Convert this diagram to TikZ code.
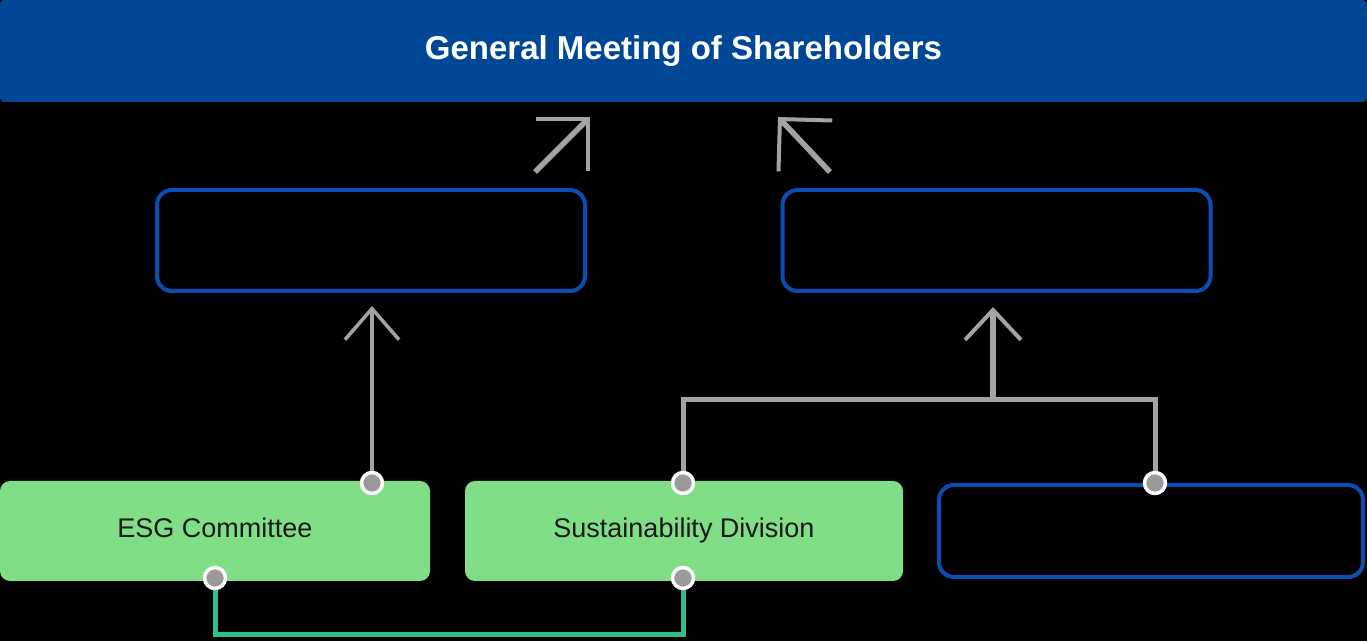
\documentclass[tikz,border=0pt]{standalone}
\usepackage{fontspec}
\setmainfont{Liberation Sans}
\usetikzlibrary{arrows.meta}
\definecolor{barblue}{HTML}{004896}
\definecolor{boxblue}{HTML}{0A4DB3}
\definecolor{boxgreen}{HTML}{7FDE86}
\definecolor{linegray}{HTML}{A3A3A3}
\definecolor{dotgray}{HTML}{9A9A9A}
\definecolor{linkteal}{HTML}{2EBF8E}
\begin{document}
\begin{tikzpicture}[x=0.5pt,y=-0.5pt,
  outlinebox/.style={draw=boxblue,line width=2pt,rounded corners=7.5pt,inner sep=0pt},
  greenbox/.style={fill=boxgreen,rounded corners=5pt,inner sep=0pt,text height=1.5ex,text depth=.25ex,
    minimum height=50pt,font=\fontsize{13.5}{15}\selectfont,text=black!90},
  dot/.style={circle,fill=dotgray,draw=white,line width=1.75pt,minimum size=10.5pt,inner sep=0pt},
  gline/.style={draw=linegray,line width=2.5pt},
  garrow/.style={gline,-{Straight Barb[length=15.5pt,width=27pt,line width=1.75pt]}},
  darrow/.style={gline,-{Straight Barb[length=18.5pt,width=37pt,line width=2pt]}}]
  \fill[black] (0,0) rectangle (1367,641);
  \node[fill=barblue,rounded corners=2pt,minimum width=683.5pt,minimum height=51pt,inner sep=0pt,
    text=white,font=\bfseries\fontsize{16.5}{19}\selectfont] (bar) at (683.5,51) {General Meeting of Shareholders};
  \node[outlinebox,minimum width=214pt,minimum height=50.5pt] (lbox) at (371,240.5) {};
  \node[outlinebox,minimum width=214pt,minimum height=50.5pt] (rbox) at (996.5,240.5) {};
  \node[greenbox,minimum width=215pt] (esg) at (215,531) {ESG Committee};
  \node[greenbox,minimum width=219pt] (sus) at (684,531) {Sustainability Division};
  \node[outlinebox,minimum width=212pt,minimum height=46pt] (ext) at (1151,531) {};
  \node[dot] (d1) at (372,483) {};
  \node[dot] (d2) at (683,483) {};
  \node[dot] (d3) at (1155,483) {};
  \node[dot] (d4) at (215,578) {};
  \node[dot] (d5) at (683,578) {};
  \coordinate (ltail) at (535,172);
  \coordinate (lhead) at (590,117);
  \coordinate (rtail) at (830,172);
  \coordinate (rhead) at (778,117);
  \coordinate (bus) at (993,400);
  \coordinate (low) at (0,635);
  \draw[darrow,line width=2.75pt] (ltail) -- (lhead);
  \draw[darrow,line width=2.75pt] (rtail) -- (rhead);
  \draw[gline] (d2) |- (bus) -| (d3);
  \draw[gline,line width=3pt,-{Straight Barb[length=15pt,width=28pt,line width=2pt]}] (bus) -- ([yshift=-7pt]bus |- rbox.south);
  \draw[linkteal,line width=2.5pt] (d4) -- (d4 |- low) -- (d5 |- low) -- (d5);
  \draw[garrow,line width=2pt] (d1) -- ([yshift=-6.5pt]lbox.south -| d1);
\end{tikzpicture}
\end{document}
